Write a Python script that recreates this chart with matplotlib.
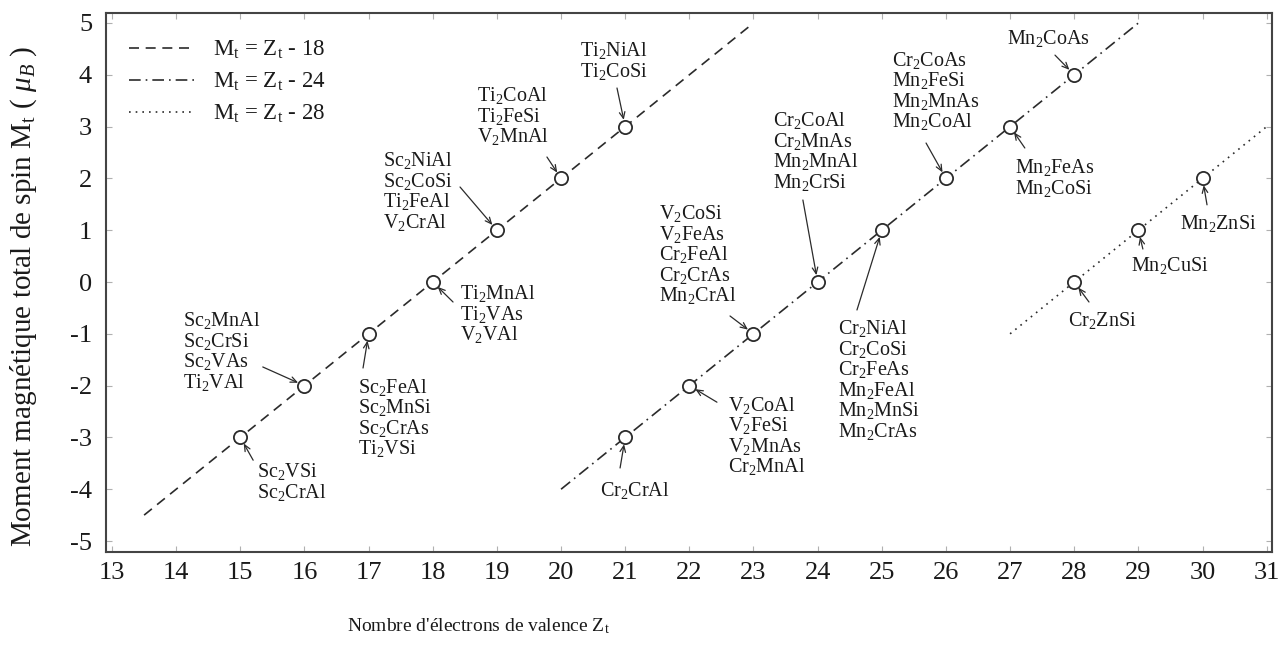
import matplotlib
matplotlib.use("Agg")
import matplotlib.pyplot as plt

plt.rcParams["font.family"] = ["Liberation Serif", "DejaVu Serif"]
plt.rcParams["mathtext.fontset"] = "custom"
plt.rcParams["mathtext.rm"] = "Liberation Serif"
plt.rcParams["mathtext.it"] = "Liberation Serif:italic"
plt.rcParams["mathtext.bf"] = "Liberation Serif:bold"
plt.rcParams["axes.unicode_minus"] = False

# --- data -----------------------------------------------------------------
# Slater-Pauling lines (end points)
rule_labels = [r"M$_\mathrm{t}$ = Z$_\mathrm{t}$ - 18",
               r"M$_\mathrm{t}$ = Z$_\mathrm{t}$ - 24",
               r"M$_\mathrm{t}$ = Z$_\mathrm{t}$ - 28"]
rule_zt = [[13.5, 23], [20, 29], [27, 31]]
rule_mt = [[-4.5, 5], [-4, 5], [-1, 3]]

# compounds grouped by (Zt, Mt)
zt = [15, 16, 17, 18, 19, 20, 21,
      21, 22, 23, 24, 25, 26, 27, 28,
      28, 29, 30]
mt = [-3, -2, -1, 0, 1, 2, 3,
      -3, -2, -1, 0, 1, 2, 3, 4,
      0, 1, 2]
compounds = [
    ["Sc2VSi", "Sc2CrAl"],
    ["Sc2MnAl", "Sc2CrSi", "Sc2VAs", "Ti2VAl"],
    ["Sc2FeAl", "Sc2MnSi", "Sc2CrAs", "Ti2VSi"],
    ["Ti2MnAl", "Ti2VAs", "V2VAl"],
    ["Sc2NiAl", "Sc2CoSi", "Ti2FeAl", "V2CrAl"],
    ["Ti2CoAl", "Ti2FeSi", "V2MnAl"],
    ["Ti2NiAl", "Ti2CoSi"],
    ["Cr2CrAl"],
    ["V2CoAl", "V2FeSi", "V2MnAs", "Cr2MnAl"],
    ["V2CoSi", "V2FeAs", "Cr2FeAl", "Cr2CrAs", "Mn2CrAl"],
    ["Cr2CoAl", "Cr2MnAs", "Mn2MnAl", "Mn2CrSi"],
    ["Cr2NiAl", "Cr2CoSi", "Cr2FeAs", "Mn2FeAl", "Mn2MnSi", "Mn2CrAs"],
    ["Cr2CoAs", "Mn2FeSi", "Mn2MnAs", "Mn2CoAl"],
    ["Mn2FeAs", "Mn2CoSi"],
    ["Mn2CoAs"],
    ["Cr2ZnSi"],
    ["Mn2CuSi"],
    ["Mn2ZnSi"],
]

# label layout: text top-left offset and arrow tail offset from the point
text_off = [(0.26, -0.46), (-1.89, 1.46), (-0.165, -0.83), (0.425, -0.02),
            (-1.776, 1.548), (-1.31, 1.80), (-0.705, 1.67),
            (-0.39, -0.82), (0.60, -0.18), (-1.47, 2.525), (-0.70, 3.32),
            (-0.683, -1.695), (-0.84, 2.48), (0.077, -0.587), (-1.05, 0.90),
            (-0.10, -0.54), (-0.115, -0.479), (-0.35, -0.67)]
tail_off = [(0.20, -0.44), (-0.65, 0.36), (-0.087, -0.66), (0.316, -0.386),
            (-0.575, 0.834), (-0.22, 0.413), (-0.128, 0.745),
            (-0.08, -0.59), (0.43, -0.32), (-0.366, 0.344), (-0.23, 1.583),
            (-0.387, -1.54), (-0.31, 0.683), (0.23, -0.413), (-0.30, 0.38),
            (0.23, -0.386), (0.07, -0.363), (0.07, -0.51)]


def fmt(name):
    # first "2" is the stoichiometric subscript
    i = name.index("2")
    return name[:i] + "$_2$" + name[i + 1:]


INK = "#2b2b2b"
TXT = "#1a1a1a"
fig = plt.figure(figsize=(12.8, 6.49), dpi=100)
ax = fig.add_axes([106 / 1280, 1 - 552 / 649, 1166 / 1280, 539 / 649])

styles = [(0, (6, 4)), (0, (7, 3, 1, 3)), (0, (1, 3))]
for xs, ys, lab, ls in zip(rule_zt, rule_mt, rule_labels, styles):
    ax.plot(xs, ys, color=INK, lw=1.2, linestyle=ls, label=lab)

ax.plot(zt, mt, linestyle="none", marker="o", ms=9.5, mfc="white",
        mec=INK, mew=1.3, zorder=3)

for x, y, names, (tdx, tdy), (adx, ady) in zip(zt, mt, compounds, text_off, tail_off):
    ax.text(x + tdx, y + tdy, "\n".join(fmt(n) for n in names), ha="left",
            va="top", fontsize=14.5, linespacing=0.97, color=TXT)
    ax.annotate("", xy=(x, y), xytext=(x + adx, y + ady),
                arrowprops=dict(arrowstyle="->,head_length=0.45,head_width=0.2",
                                color=INK, lw=0.9, shrinkA=0, shrinkB=5))

ax.set_xlim(12.906, 31.083)
ax.set_ylim(-5.212, 5.193)
ax.set_xticks(range(13, 32))
ax.set_yticks(range(-5, 6))
ax.tick_params(direction="in", length=4, width=0.8, color="#b0b0b0",
               top=True, right=True, labelsize=19, labelcolor=TXT)
ax.tick_params(axis="x", pad=7)
ax.tick_params(axis="y", pad=10)
for s in ax.spines.values():
    s.set_color("#444444")
    s.set_linewidth(1.5)

leg = ax.legend(loc="upper left", bbox_to_anchor=(0.0, 0.994), frameon=False,
                fontsize=16.5, handlelength=2.9, labelspacing=0.42,
                handletextpad=0.75, borderaxespad=0.6)
for t in leg.get_texts():
    t.set_color(TXT)

fig.text(24 / 1280, 1 - 296 / 649,
         r"Moment magnétique total de spin M$_\mathrm{t}$ ( $\mu_B$ )",
         rotation=90, ha="center", va="center", fontsize=21, color=TXT)
fig.text(478 / 1280, 1 - 626 / 649,
         r"Nombre d'électrons de valence Z$_\mathrm{t}$",
         ha="center", va="center", fontsize=14, color=TXT)

fig.savefig("out.png", dpi=100)
